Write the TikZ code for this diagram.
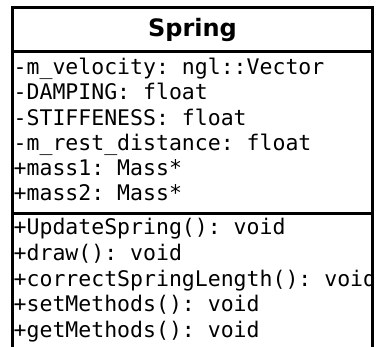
\documentclass[tikz,border=0pt]{standalone}
\usepackage{fontspec}
\setmonofont{DejaVu Sans Mono}
\setsansfont{DejaVu Sans}
\begin{document}
\begin{tikzpicture}[x=1pt,y=-1pt,
  member/.style={anchor=base west,inner sep=0pt,font=\ttfamily\fontsize{21.5}{24}\selectfont},
  classname/.style={anchor=base,inner sep=0pt,font=\sffamily\bfseries\fontsize{24}{28}\selectfont},
  umlline/.style={line width=3pt,black}]
\useasboundingbox (0,0) rectangle (377,347);
\clip (0,0) rectangle (377,347);
% class box, running past the lower edge
\draw[umlline] (12,7.5) rectangle (372.5,400);
\draw[umlline] (12,52) -- (372.5,52);
\draw[umlline] (12,214) -- (372.5,214);
% class name
\node[classname] (title) at (192.5,36.5) {Spring};
% attributes
\node[member] (a1) at (13.5,74.5) {-m\_velocity: ngl::Vector};
\node[member] (a2) at (13.5,99.8) {-DAMPING: float};
\node[member] (a3) at (13.5,125.1) {-STIFFENESS: float};
\node[member] (a4) at (13.5,150.4) {-m\_rest\_distance: float};
\node[member] (a5) at (13.5,175.7) {+mass1: Mass*};
\node[member] (a6) at (13.5,201) {+mass2: Mass*};
% operations
\begin{scope}
\clip (12,214) rectangle (371,400);
\node[member] (o1) at (13.5,235) {+UpdateSpring(): void};
\node[member] (o2) at (13.5,260.5) {+draw(): void};
\node[member] (o3) at (13.5,286) {+correctSpringLength(): void};
\node[member] (o4) at (13.5,311.5) {+setMethods(): void};
\node[member] (o5) at (13.5,337) {+getMethods(): void};
\end{scope}
\draw[umlline] (372.5,214) -- (372.5,400);
\end{tikzpicture}
\end{document}
